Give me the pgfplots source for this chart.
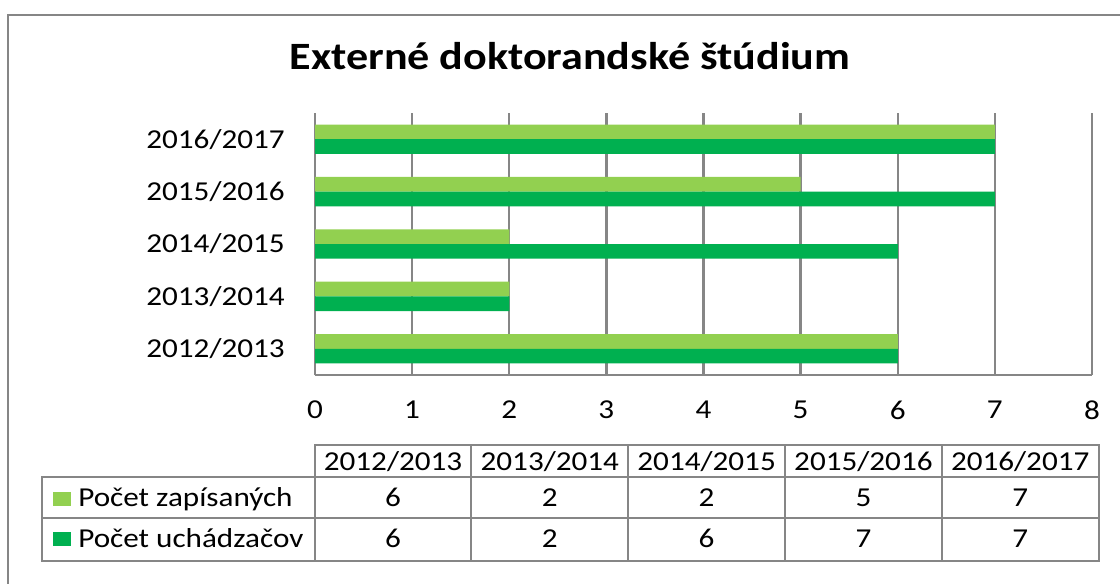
\documentclass[border=0pt]{standalone}
\usepackage{pgfplots}
\pgfplotsset{compat=1.18}
\usepackage{fontspec}
\setmainfont{Carlito}[FakeStretch=1.14]
\definecolor{zap}{RGB}{146,208,80}
\definecolor{uch}{RGB}{0,176,80}
\definecolor{linegray}{RGB}{134,134,134}
\newcommand{\fs}{\fontsize{20.5pt}{24pt}\selectfont}
\begin{document}
\begin{tikzpicture}
% 1 px of the reference = 0.75pt
\useasboundingbox (0pt,0pt) rectangle (840pt,-438pt);
\clip (0pt,0pt) rectangle (840pt,-438pt);

\begin{axis}[
    at={(236.25pt,-281.25pt)}, anchor=south west,
    scale only axis,
    width=582.75pt, height=196.5pt,
    xbar,
    xmin=0, xmax=8,
    ymin=-0.5, ymax=4.5,
    xtick={0,1,...,8},
    ytick={0,1,2,3,4},
    yticklabels={2012/2013,2013/2014,2014/2015,2015/2016,2016/2017},
    major tick length=0pt,
    axis lines*=left,
    axis line style={linegray, line width=1.8pt, -},
    xmajorgrids,
    major grid style={linegray, line width=1.8pt},
    /pgf/number format/assume math mode=true,
    xticklabel style={font=\fs, anchor=center, inner sep=0pt, yshift=-26.25pt},
    yticklabel style={font=\fs, anchor=east, inner sep=0pt, xshift=-22.5pt},
]
% Počet zapísaných
\addplot[fill=zap, draw=none, bar width=0.28, bar shift=0.14]
    coordinates {(6,0) (2,1) (2,2) (5,3) (7,4)};
% Počet uchádzačov
\addplot[fill=uch, draw=none, bar width=0.28, bar shift=-0.14]
    coordinates {(6,0) (2,1) (6,2) (7,3) (7,4)};
\end{axis}

\begin{scope}[x=0.75pt, y=-0.75pt]
% ramček grafu
\draw[linegray, line width=1.8pt] (8,15) rectangle (1140,610);
% nadpis
\node[anchor=base, inner sep=0pt, font=\fontsize{29pt}{33pt}\selectfont\bfseries]
    at (570,70) {Externé doktorandské štúdium};

% tabuľka s údajmi
\begin{scope}[linegray, line width=1.8pt]
\draw (315,445) rectangle (1099,561);
\draw (42,477) rectangle (315,561);
\draw (42,518) -- (1099,518);
\draw (315,477) -- (1099,477);
\foreach \x in {471,628,785,942} \draw (\x,445) -- (\x,561);
\end{scope}

\foreach \t [count=\i from 0] in {2012/2013,2013/2014,2014/2015,2015/2016,2016/2017}
    \node[anchor=base, inner sep=0pt, font=\fs] at (393+156.8*\i,470) {\t};
\foreach \v [count=\i from 0] in {6,2,2,5,7}
    \node[anchor=base, inner sep=0pt, font=\fs] at (393+156.8*\i,506) {\v};
\foreach \v [count=\i from 0] in {6,2,6,7,7}
    \node[anchor=base, inner sep=0pt, font=\fs] at (393+156.8*\i,547) {\v};

\fill[zap] (53,492) rectangle (71,506);
\fill[uch] (53,532) rectangle (71,546);
\node[anchor=base west, inner sep=0pt, font=\fs] at (78,506) {Počet zapísaných};
\node[anchor=base west, inner sep=0pt, font=\fs] at (78,547) {Počet uchádzačov};
\end{scope}
\end{tikzpicture}
\end{document}
